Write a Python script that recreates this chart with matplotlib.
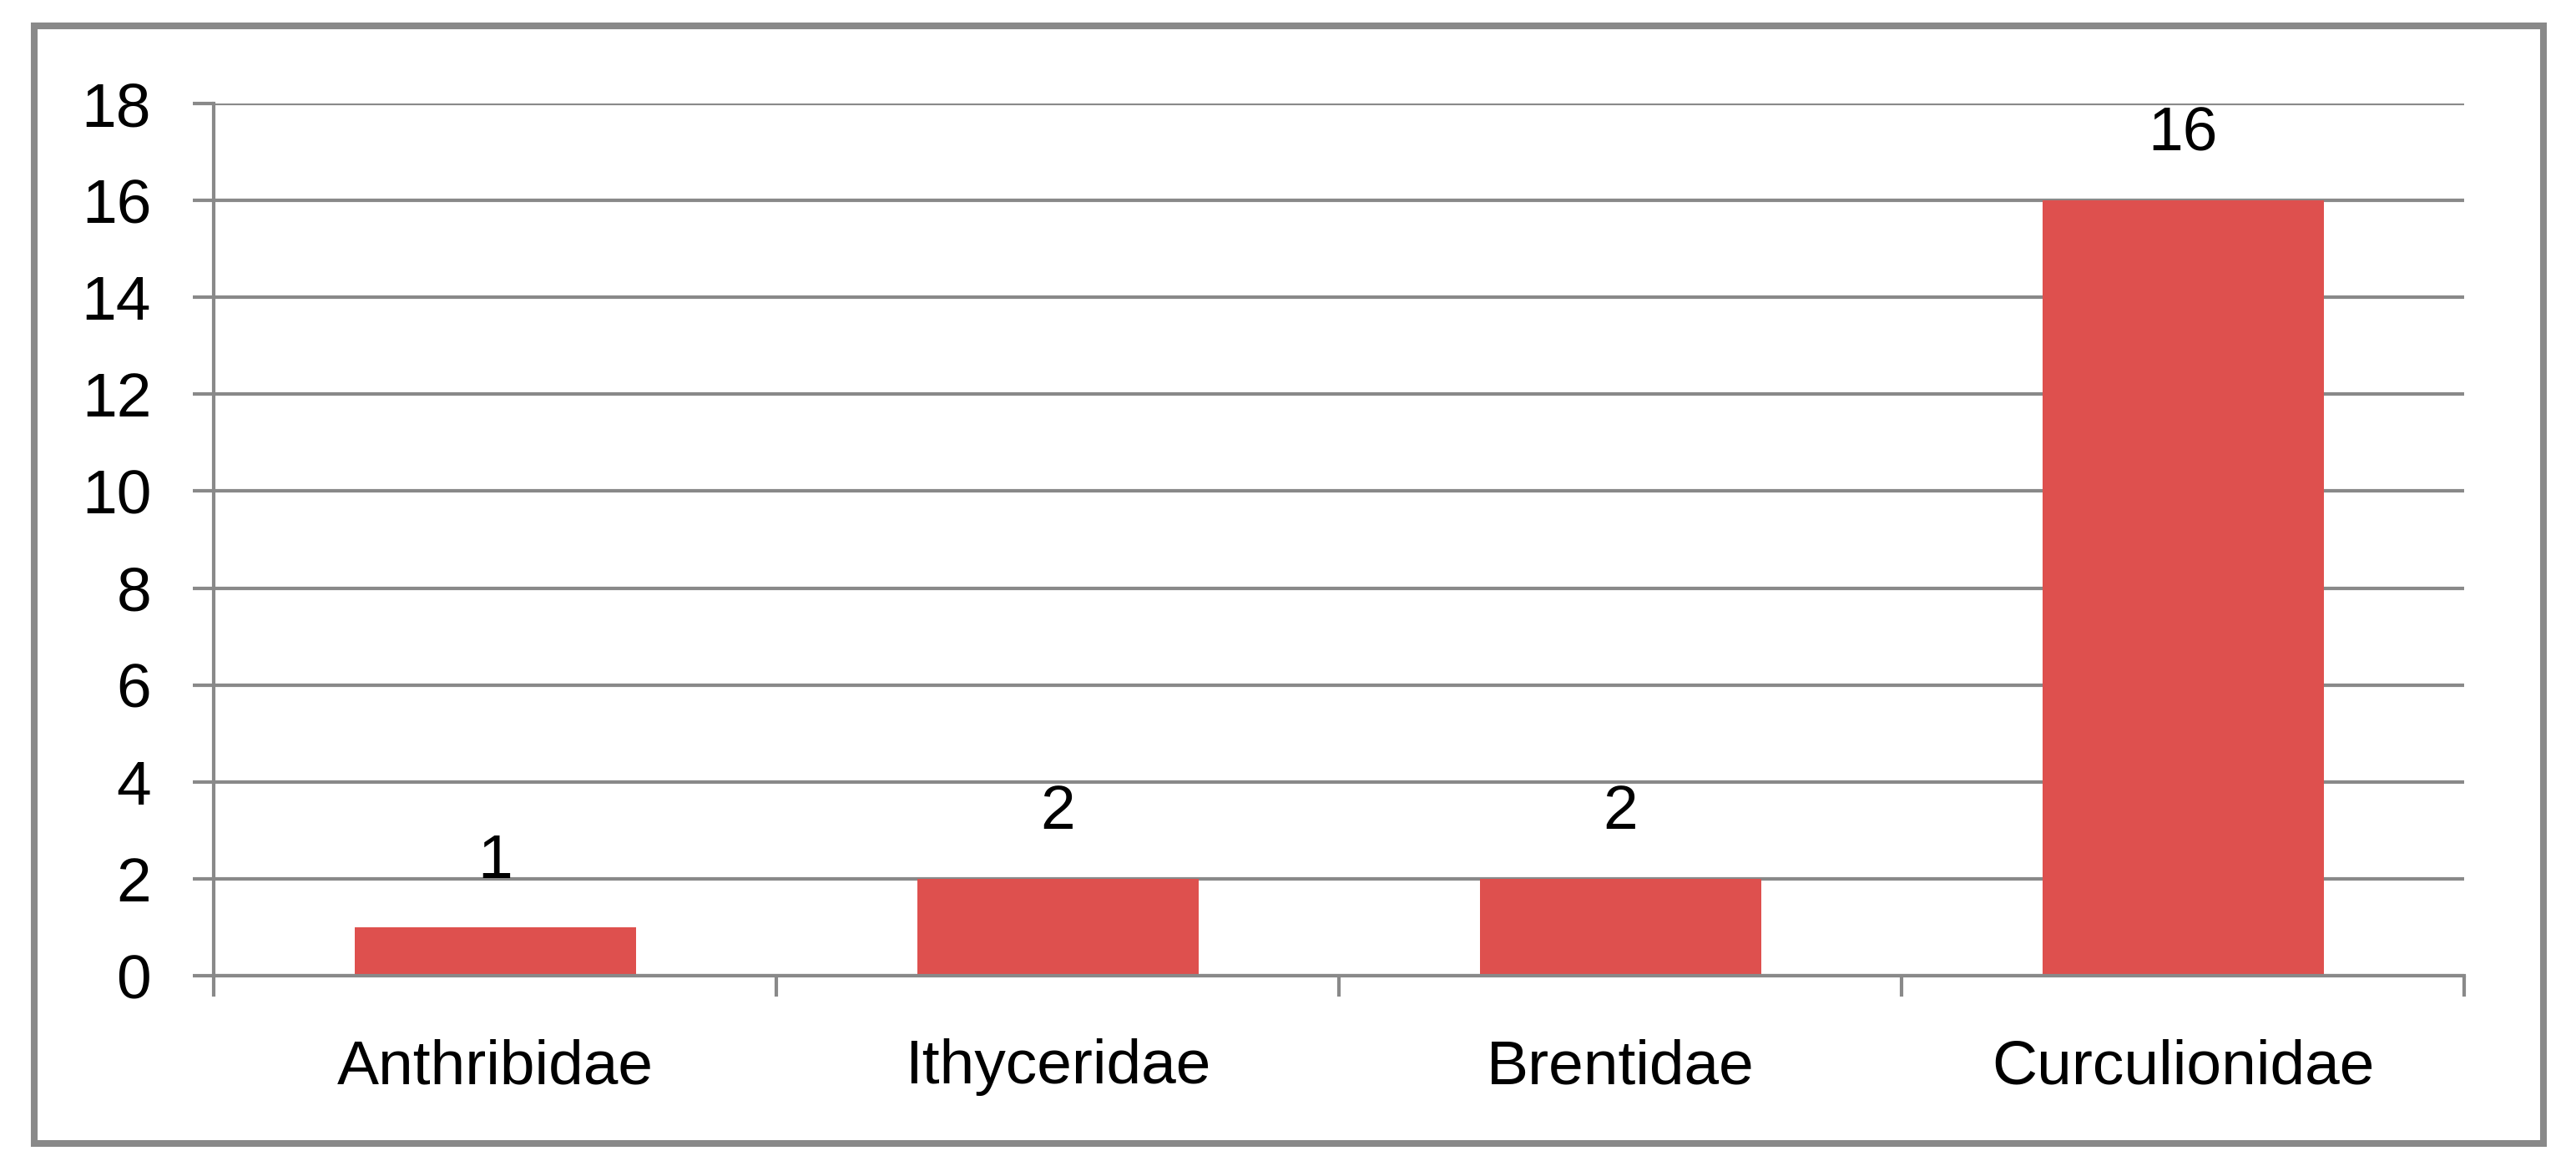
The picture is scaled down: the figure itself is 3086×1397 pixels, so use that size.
import matplotlib.pyplot as plt
from matplotlib.patches import Rectangle

plt.rcParams['font.family'] = ['Liberation Sans', 'DejaVu Sans']

# Data
families = ["Anthribidae", "Ithyceridae", "Brentidae", "Curculionidae"]
counts = [1, 2, 2, 16]
yticks = [0, 2, 4, 6, 8, 10, 12, 14, 16, 18]

grey = "#898989"
red = "#DE504E"

fig = plt.figure(figsize=(15.43, 6.985), dpi=200)
ax = fig.add_axes([0.0830, 0.1632, 0.9566 - 0.0830, 0.9112 - 0.1632])

x = list(range(len(families)))
bars = ax.bar(x, counts, width=0.5, color=red, zorder=3)

for xi, v in zip(x, counts):
    ax.annotate(str(v), (xi, v), xytext=(0, 16), textcoords="offset points",
                ha="center", va="bottom", fontsize=27)

ax.set_xlim(-0.5, len(families) - 0.5)
ax.set_ylim(0, 18)
ax.set_yticks(yticks)
ax.yaxis.grid(True, color=grey, linewidth=1.5, zorder=0)

# ticks at category borders, labels at centres
ax.set_xticks([i - 0.5 for i in range(len(families) + 1)])
ax.set_xticklabels([])
ax.set_xticks(x, minor=True)
ax.set_xticklabels(families, minor=True)
ax.tick_params(axis="x", which="minor", length=0, pad=27, labelsize=27)
ax.tick_params(axis="x", which="major", length=9, width=1.5, color=grey)
ax.tick_params(axis="y", length=9, width=1.5, color=grey, pad=18, labelsize=27)

for s in ["top", "right"]:
    ax.spines[s].set_visible(False)
for s in ["left", "bottom"]:
    ax.spines[s].set_color(grey)
    ax.spines[s].set_linewidth(1.5)
    ax.spines[s].set_zorder(4)

# outer chart frame
fig.patches.append(Rectangle((0.0133, 0.0193), 0.9741, 0.9587, transform=fig.transFigure,
                             fill=False, edgecolor=grey, linewidth=2.9))

fig.savefig("out.png", dpi=200)
